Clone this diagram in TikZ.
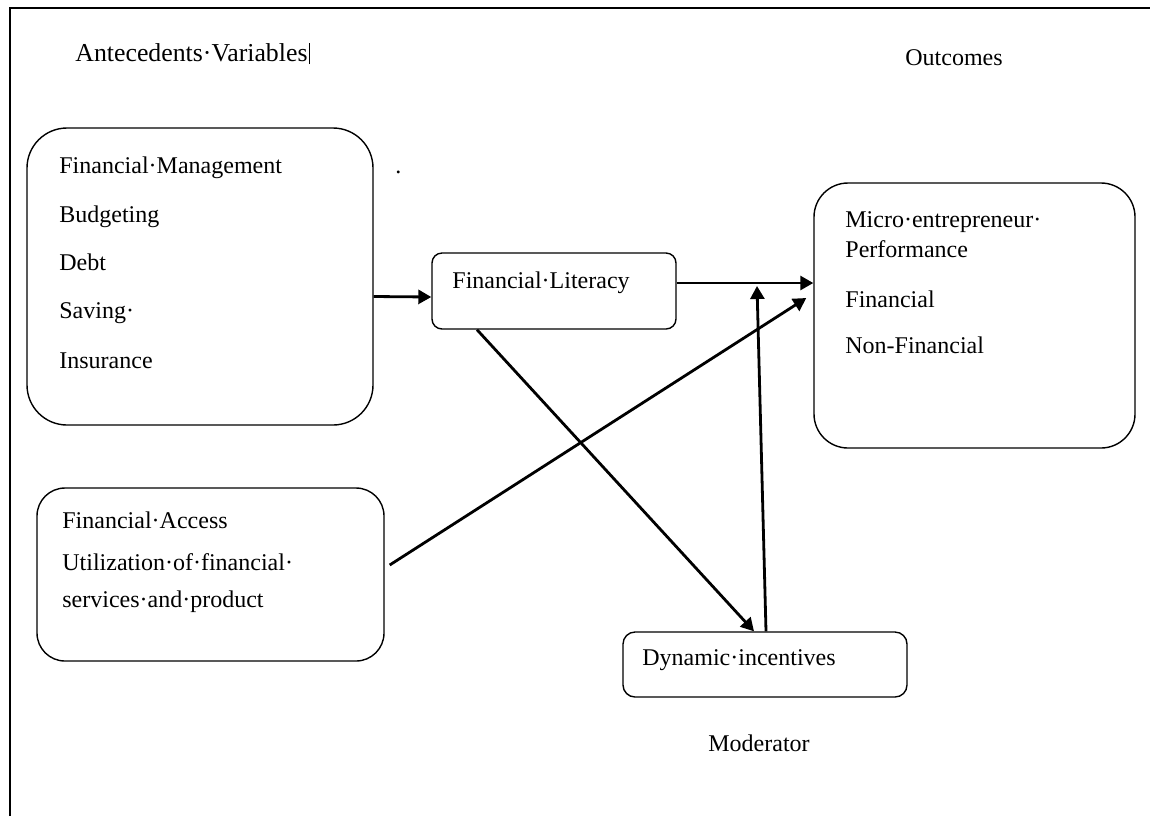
\documentclass[tikz,border=0pt]{standalone}
\usepackage{fontspec}
\setmainfont{Liberation Serif}
\usetikzlibrary{arrows.meta}

\begin{document}
\begin{tikzpicture}[
    x=0.5pt, y=-0.5pt,
    font=\fontsize{12}{14}\selectfont,
    box/.style={draw, line width=0.7pt, rounded corners=#1, inner sep=0pt},
    txt/.style={anchor=base west, inner sep=0pt},
    arr/.style={draw, line width=1.4pt, -{Triangle[length=6.5pt, width=7pt]}}
  ]

  \useasboundingbox (0,0) rectangle (1150,816);
  \draw[line width=1.35pt] (10,816) -- (10,8) -- (1150,8);

  \node[txt, font=\fontsize{12.9}{14}\selectfont] (antlabel) at (75,61) {Antecedents·Variables\kern0.6pt\rule[-1.5pt]{0.6pt}{10.5pt}};
  \node[txt] (outlabel) at (905,65) {Outcomes};
  \node[txt] (modlabel) at (708,751) {Moderator};
  \node[txt] (dot) at (395,173) {.};

  \node[box=20pt, minimum width=173pt, minimum height=148.5pt] (fm) at (200,276.5) {};
  \node[box=5pt, minimum width=122pt, minimum height=38pt] (fl) at (554,291) {};
  \node[box=17pt, minimum width=160.5pt, minimum height=132.5pt] (mp) at (974.5,315.5) {};
  \node[box=14pt, minimum width=173.5pt, minimum height=86.5pt] (fa) at (210.5,574.5) {};
  \node[box=6pt, minimum width=142pt, minimum height=32.5pt] (di) at (765,664.5) {};

  \node[txt] (fm1) at (59,173) {Financial·Management};
  \node[txt] (fm2) at (59,222) {Budgeting};
  \node[txt] (fm3) at (59,270) {Debt};
  \node[txt] (fm4) at (59,318) {Saving·};
  \node[txt] (fm5) at (59,368) {Insurance};

  \node[txt] (fl1) at (452,288) {Financial·Literacy};

  \node[txt] (mp1) at (845,227) {Micro·entrepreneur·};
  \node[txt] (mp2) at (845,257) {Performance};
  \node[txt] (mp3) at (845,307) {Financial};
  \node[txt] (mp4) at (845,353) {Non-Financial};

  \node[txt] (fa1) at (62,528) {Financial·Access};
  \node[txt] (fa2) at (62,570) {Utilization·of·financial·};
  \node[txt] (fa3) at (62,607) {services·and·product};

  \node[txt] (di1) at (642,665) {Dynamic·incentives};

  \coordinate (joint) at (757,286);

  \draw[arr] ([yshift=-10pt]fm.east) -- ([yshift=-3pt]fl.west);
  \draw[arr] ([yshift=4pt]fl.east) -- ([yshift=16.25pt]mp.west);
  \draw[arr] ([xshift=-38.5pt]fl.south) -- ([xshift=-5.5pt]di.north);
  \draw[arr] ([xshift=0.5pt]di.north) -- (joint);
  \draw[arr] ([xshift=2.5pt, yshift=4.75pt]fa.east) -- ([xshift=-3.5pt, yshift=8.75pt]mp.west);

\end{tikzpicture}
\end{document}
